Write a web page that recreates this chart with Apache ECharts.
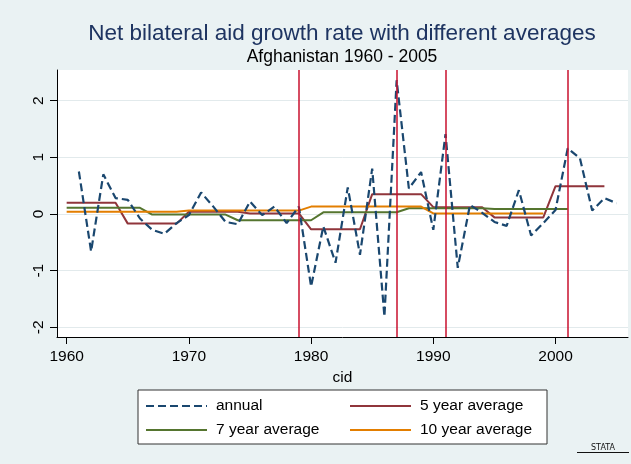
<!DOCTYPE html>
<html>
<head>
<meta charset="utf-8">
<script src="https://cdn.jsdelivr.net/npm/echarts@6/dist/echarts.min.js"></script>
<style>
html,body{margin:0;padding:0;background:#EAF2F3;}
#chart{width:631px;height:464px;}
</style>
</head>
<body>
<div id="chart"></div>
<script>
const years = [1960,1961,1962,1963,1964,1965,1966,1967,1968,1969,
  1970,1971,1972,1973,1974,1975,1976,1977,1978,1979,
  1980,1981,1982,1983,1984,1985,1986,1987,1988,1989,
  1990,1991,1992,1993,1994,1995,1996,1997,1998,1999,
  2000,2001,2002,2003,2004,2005];
const annual = [null,0.75,-0.66,0.70,0.28,0.25,-0.08,-0.28,-0.35,-0.16,
  -0.02,0.38,0.13,-0.14,-0.18,0.22,-0.02,0.13,-0.16,0.13,
  -1.28,-0.22,-0.86,0.47,-0.72,0.80,-1.81,2.36,0.45,0.74,
  -0.28,1.41,-0.95,0.16,0.02,-0.14,-0.21,0.42,-0.38,-0.16,
  0.07,1.16,0.98,0.06,0.28,0.19];
const avg5 = [0.20,0.20,0.20,0.20,0.20,-0.17,-0.17,-0.17,-0.17,-0.17,
  0.04,0.04,0.04,0.04,0.04,0.01,0.01,0.01,0.01,0.01,
  -0.27,-0.27,-0.27,-0.27,-0.27,0.35,0.35,0.35,0.35,0.35,
  0.12,0.12,0.12,0.12,0.12,-0.06,-0.06,-0.06,-0.06,-0.06,
  0.49,0.49,0.49,0.49,0.49,null];
const avg7 = [0.11,0.11,0.11,0.11,0.11,0.11,0.11,
  -0.01,-0.01,-0.01,-0.01,-0.01,-0.01,-0.01,
  -0.11,-0.11,-0.11,-0.11,-0.11,-0.11,-0.11,
  0.03,0.03,0.03,0.03,0.03,0.03,0.03,
  0.10,0.10,0.10,0.10,0.10,0.10,0.10,
  0.09,0.09,0.09,0.09,0.09,0.09,0.09,
  null,null,null,null];
const avg10 = [0.04,0.04,0.04,0.04,0.04,0.04,0.04,0.04,0.04,0.04,
  0.06,0.06,0.06,0.06,0.06,0.06,0.06,0.06,0.06,0.06,
  0.13,0.13,0.13,0.13,0.13,0.13,0.13,0.13,0.13,0.13,
  0.01,0.01,0.01,0.01,0.01,0.01,0.01,0.01,0.01,0.01,
  null,null,null,null,null,null];
const eventYears = [1979,1987,1991,2001];
const xTicks = [1960,1970,1980,1990,2000];
const yTicks = [-2,-1,0,1,2];
const seriesNames = ['annual','5 year average','7 year average','10 year average'];
const titleText = 'Net bilateral aid growth rate with different averages';
const subtitleText = 'Afghanistan 1960 - 2005';
const xName = 'cid';

const FONT = 'Liberation Sans, Arial, sans-serif';
const pair = arr => years.map((y,i) => [y, arr[i]]);

const chart = echarts.init(document.getElementById('chart'), null, {renderer:'canvas'});
chart.setOption({
  backgroundColor:'#EAF2F3',
  animation:false,
  textStyle:{fontFamily:FONT},
  graphic:[
    {type:'text', x:342, y:34, style:{text:titleText, fontSize:22.5, fontFamily:FONT, fill:'#1E3461', textAlign:'center', textVerticalAlign:'middle'}},
    {type:'text', x:342, y:57, style:{text:subtitleText, fontSize:17.5, fontFamily:FONT, fill:'#000', textAlign:'center', textVerticalAlign:'middle'}},
    {type:'text', x:603, y:448, style:{text:'STATA', fontSize:8, fontFamily:'DejaVu Sans', fill:'#111', textAlign:'center', textVerticalAlign:'middle'}},
    {type:'rect', shape:{x:577, y:452, width:52, height:1}, style:{fill:'#111'}}
  ],
  grid:{left:57, right:3, top:70, bottom:127, show:true, backgroundColor:'#fff', borderWidth:0},
  xAxis:{
    type:'value', min:1959.21, max:2005.93,
    name:xName, nameLocation:'middle', nameGap:28,
    nameTextStyle:{fontSize:15.5, color:'#000', fontFamily:FONT},
    axisLine:{show:true, onZero:false, lineStyle:{color:'#000', width:1}},
    axisTick:{show:true, length:7, lineStyle:{color:'#000'}, customValues:xTicks},
    axisLabel:{fontSize:15.5, color:'#000', margin:12, customValues:xTicks, fontFamily:FONT,
      formatter: v => String(v)},
    splitLine:{show:false}
  },
  yAxis:{
    type:'value', min:-2.17, max:2.54,
    axisLine:{show:true, onZero:false, lineStyle:{color:'#000', width:1}},
    axisTick:{show:true, length:7, lineStyle:{color:'#000'}, customValues:yTicks},
    axisLabel:{fontSize:15.5, color:'#000', rotate:90, margin:10, customValues:yTicks, fontFamily:FONT,
      formatter: v => String(v)},
    splitLine:{show:true, lineStyle:{color:'#E2EAEC', width:1}}
  },
  legend:{
    data:seriesNames,
    left:138, top:390, width:400,
    orient:'horizontal',
    padding:[8,2,6,7],
    itemGap:8, itemWidth:61, itemHeight:15,
    itemStyle:{opacity:0},
    backgroundColor:'#fff', borderColor:'#333', borderWidth:1, borderRadius:0,
    textStyle:{fontSize:15.5, color:'#000', width:125, lineHeight:15, fontFamily:FONT, padding:[0,0,0,4]}
  },
  series:[
    {name:seriesNames[0], type:'line', data:pair(annual), symbol:'none', z:3,
     lineStyle:{color:'#1A476F', width:2.2, type:[8,4]}, itemStyle:{color:'#1A476F'},
     markLine:{silent:true, symbol:'none', label:{show:false}, animation:false,
       lineStyle:{color:'#C8102E', width:1.5, type:'solid'},
       data:eventYears.map(y => ({xAxis:y}))}},
    {name:seriesNames[1], type:'line', data:pair(avg5), symbol:'none', z:2,
     lineStyle:{color:'#90353B', width:2}, itemStyle:{color:'#90353B'}},
    {name:seriesNames[2], type:'line', data:pair(avg7), symbol:'none', z:2,
     lineStyle:{color:'#55752F', width:2}, itemStyle:{color:'#55752F'}},
    {name:seriesNames[3], type:'line', data:pair(avg10), symbol:'none', z:2,
     lineStyle:{color:'#E37E00', width:2}, itemStyle:{color:'#E37E00'}}
  ]
});
</script>
</body>
</html>
